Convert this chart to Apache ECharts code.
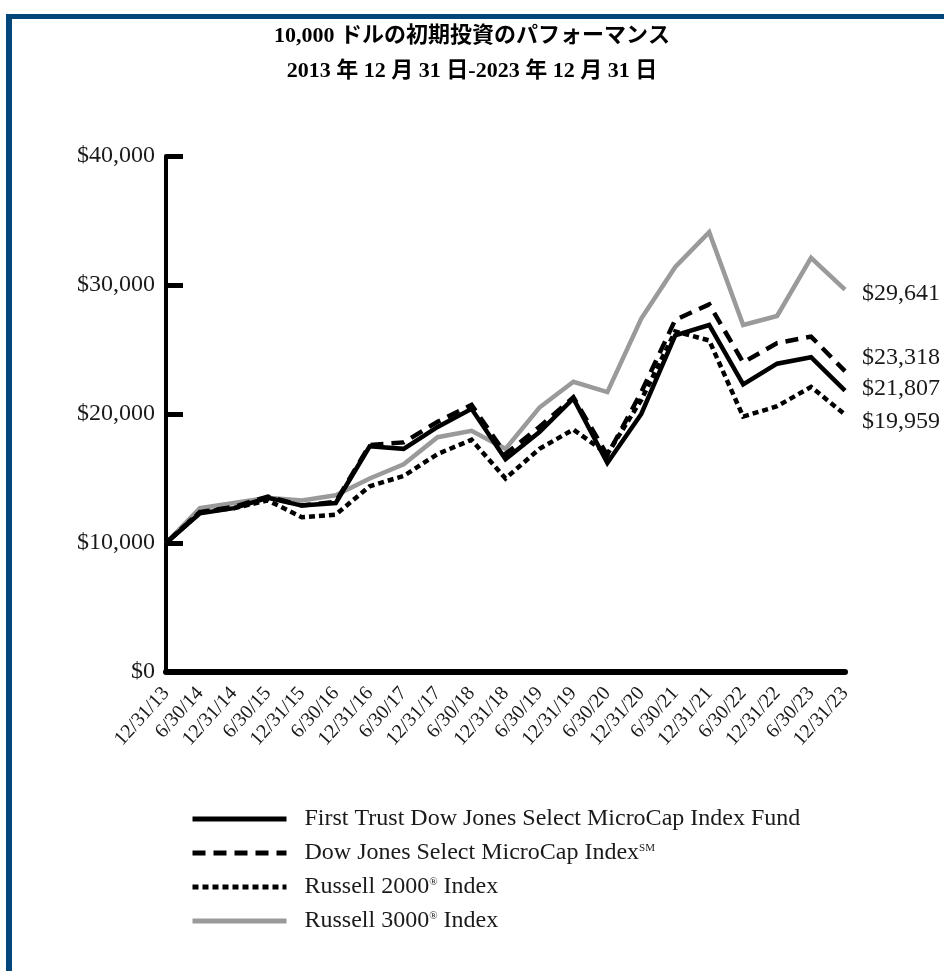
<!DOCTYPE html>
<html>
<head>
<meta charset="utf-8">
<script src="https://cdn.jsdelivr.net/npm/echarts@6/dist/echarts.min.js"></script>
<style>
  html, body { margin: 0; padding: 0; background: #ffffff; }
  #wrap { position: relative; width: 944px; height: 971px; overflow: hidden; background: #fff; }
  #frame { position: absolute; left: 6px; top: 14px; width: 1000px; height: 1000px;
           border-top: 5px solid #03467a; border-left: 6px solid #03467a; box-sizing: border-box; }
  #chart { position: absolute; left: 0; top: 0; width: 944px; height: 971px; }
</style>
</head>
<body>
<div id="wrap">
  <div id="frame"></div>
  <div id="chart"></div>
</div>
<script>
// ---- data ----
const titleLines = ['10,000 ドルの初期投資のパフォーマンス', '2013 年 12 月 31 日-2023 年 12 月 31 日'];
const categories = ['12/31/13','6/30/14','12/31/14','6/30/15','12/31/15','6/30/16','12/31/16','6/30/17',
  '12/31/17','6/30/18','12/31/18','6/30/19','12/31/19','6/30/20','12/31/20','6/30/21','12/31/21',
  '6/30/22','12/31/22','6/30/23','12/31/23'];
const seriesNames = ['First Trust Dow Jones Select MicroCap Index Fund', 'Dow Jones Select MicroCap Index℠',
  'Russell 2000® Index', 'Russell 3000® Index'];
const fundValues = [10000, 12300, 12700, 13500, 12900, 13100, 17500, 17300, 19000, 20400, 16500,
  18600, 21200, 16200, 20000, 26100, 26900, 22300, 23900, 24400, 21807];
const djValues = [10000, 12400, 12800, 13600, 12900, 13200, 17600, 17800, 19400, 20700, 16900,
  19000, 21300, 16800, 21700, 27300, 28500, 24000, 25500, 26000, 23318];
const r2000Values = [10000, 12400, 12700, 13300, 12000, 12200, 14400, 15200, 16900, 18000, 15000,
  17300, 18800, 16900, 21100, 26400, 25700, 19800, 20600, 22100, 19959];
const r3000Values = [10000, 12700, 13100, 13500, 13300, 13700, 15000, 16100, 18200, 18700, 17300,
  20500, 22500, 21700, 27400, 31400, 34100, 26900, 27600, 32100, 29641];
const endLabels = ['$21,807', '$23,318', '$19,959', '$29,641'];
const yTicks = [0, 10000, 20000, 30000, 40000];

// ---- chart ----
const serif = "'Liberation Serif', 'Times New Roman', 'Noto Sans CJK JP', serif";
const titleFont = "'Liberation Serif', 'Noto Sans CJK JP', serif";
const fmtMoney = v => '$' + v.toString().replace(/\B(?=(\d{3})+(?!\d))/g, ',');

const styles = [
  { color: '#000000', type: 'solid', width: 4.5, dy: -2 },
  { color: '#000000', type: [13, 8], width: 4.5, dy: -13 },
  { color: '#000000', type: [6, 4], width: 4.5, dy: 7 },
  { color: '#9a9a9a', type: 'solid', width: 4.5, dy: 4 }
];
const valueSets = [fundValues, djValues, r2000Values, r3000Values];
const drawOrder = [3, 2, 1, 0];

const series = drawOrder.map(i => ({
  name: seriesNames[i],
  type: 'line',
  data: valueSets[i],
  symbol: 'none',
  animation: false,
  z: 2 + (3 - i),
  lineStyle: { color: styles[i].color, type: styles[i].type, width: styles[i].width, cap: 'butt', join: 'miter' },
  itemStyle: { color: styles[i].color },
  endLabel: {
    show: true,
    formatter: () => endLabels[i],
    distance: 17,
    offset: [0, styles[i].dy],
    color: '#1a1a1a',
    fontFamily: serif,
    fontSize: 24
  }
}));

const legendRich = {
  t: { fontFamily: serif, fontSize: 24, color: '#1a1a1a' },
  s: { fontFamily: serif, fontSize: 11, color: '#1a1a1a', padding: [0, 0, 10, 0] }
};
function legendFormat(name) {
  const m = name.match(/^(.*?)([℠®])(.*)$/);
  if (!m) return '{t|' + name + '}';
  const sup = m[2] === '℠' ? 'SM' : '®';
  return '{t|' + m[1] + '}{s|' + sup + '}' + (m[3] ? '{t|' + m[3] + '}' : '');
}

const chart = echarts.init(document.getElementById('chart'), null, { renderer: 'canvas' });
chart.setOption({
  backgroundColor: 'transparent',
  animation: false,
  title: {
    text: titleLines.join('\n'),
    left: 'center',
    top: 14,
    textStyle: { fontFamily: titleFont, fontSize: 22, fontWeight: 'bold', color: '#000', lineHeight: 35 }
  },
  grid: { left: 166, right: 99, top: 156, bottom: 299, containLabel: false },
  legend: {
    orient: 'vertical',
    left: 190,
    top: 807,
    padding: 0,
    itemWidth: 94,
    itemHeight: 14,
    itemGap: 10,
    selectedMode: false,
    itemStyle: { opacity: 0, borderWidth: 0 },
    data: seriesNames.map((n, i) => ({
      name: n,
      itemStyle: { opacity: 0, borderWidth: 0 },
      lineStyle: { color: styles[i].color, type: styles[i].type, width: 5 }
    })),
    formatter: legendFormat,
    textStyle: { fontFamily: serif, fontSize: 24, color: '#1a1a1a', padding: [0, 0, 0, 13], rich: legendRich }
  },
  xAxis: {
    type: 'category',
    data: categories,
    boundaryGap: false,
    axisLine: { show: true, lineStyle: { color: '#000', width: 6 } },
    axisTick: { show: false },
    axisLabel: {
      interval: 0,
      rotate: 48,
      margin: 18,
      fontFamily: serif,
      fontSize: 20,
      color: '#1a1a1a'
    },
    splitLine: { show: false }
  },
  yAxis: {
    type: 'value',
    min: yTicks[0],
    max: yTicks[yTicks.length - 1],
    interval: yTicks[1] - yTicks[0],
    axisLine: { show: true, lineStyle: { color: '#000', width: 4 } },
    axisTick: { show: true, inside: true, length: 17, lineStyle: { color: '#000', width: 5 } },
    axisLabel: {
      formatter: fmtMoney,
      margin: 11,
      fontFamily: serif,
      fontSize: 24,
      color: '#1a1a1a'
    },
    splitLine: { show: false }
  },
  series: series
});
</script>
</body>
</html>
